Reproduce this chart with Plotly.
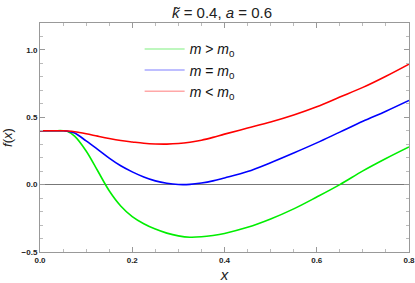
import plotly.graph_objects as go

x = [0, 0.03, 0.05, 0.06, 0.075, 0.1, 0.125, 0.15, 0.175, 0.2, 0.225, 0.25, 0.275, 0.3, 0.325,
     0.35, 0.375, 0.4, 0.45, 0.5, 0.55, 0.6, 0.65, 0.7, 0.75, 0.8]

f_greater = [0.4, 0.4, 0.4, 0.394, 0.36, 0.25, 0.103, -0.045, -0.158, -0.237, -0.29, -0.33, -0.36,
             -0.38, -0.39, -0.387, -0.377, -0.362, -0.317, -0.255, -0.18, -0.092, 0.0, 0.102,
             0.194, 0.28]
f_equal = [0.4, 0.4, 0.4, 0.396, 0.383, 0.325, 0.262, 0.197, 0.14, 0.095, 0.057, 0.028, 0.01,
           0.001, 0.002, 0.012, 0.028, 0.05, 0.097, 0.163, 0.235, 0.31, 0.39, 0.47, 0.545, 0.625]
f_less = [0.4, 0.4, 0.4, 0.398, 0.393, 0.378, 0.36, 0.343, 0.328, 0.317, 0.307, 0.302, 0.301,
          0.305, 0.315, 0.33, 0.351, 0.375, 0.42, 0.465, 0.517, 0.578, 0.65, 0.722, 0.805, 0.895]

x_ticks = [0, 0.2, 0.4, 0.6, 0.8]
x_ticklabels = ["0.0", "0.2", "0.4", "0.6", "0.8"]
y_ticks = [-0.5, 0, 0.5, 1.0]
y_ticklabels = ["\u22120.5", "0.0", "0.5", "1.0"]

names = ["<i>m</i> &gt; <i>m</i><sub>0</sub>",
         "<i>m</i> = <i>m</i><sub>0</sub>",
         "<i>m</i> &lt; <i>m</i><sub>0</sub>"]
colors = ["#00ee00", "#0000ff", "#ff0000"]
pale = ["#a8f5a8", "#a8a8ff", "#ffa8a8"]
series = [f_greater, f_equal, f_less]

fig = go.Figure()
for ys, c in zip(series, colors):
    fig.add_trace(go.Scatter(x=x, y=ys, mode="lines",
                             line=dict(color=c, width=1.6, shape="spline", smoothing=1.0),
                             showlegend=False, hoverinfo="skip"))
for n, p in zip(names, pale):
    fig.add_trace(go.Scatter(x=[None], y=[None], mode="lines", line=dict(color=p, width=1.5),
                             name=n, showlegend=True))

axis_common = dict(showline=True, linecolor="#999999", linewidth=1, mirror="allticks",
                   ticks="inside", tickcolor="#999999", ticklen=5, tickwidth=1,
                   showgrid=False, automargin=False, ticklabeloverflow="allow",
                   tickfont=dict(family="Liberation Sans", size=8, color="#222222"))

fig.update_layout(
    width=415, height=283,
    margin=dict(l=40, r=6, t=23, b=31),
    plot_bgcolor="white", paper_bgcolor="white",
    title=dict(text="<i>k̃</i> = 0.4, <i>a</i> = 0.6", x=0.535, xanchor="center", y=0.975,
               yanchor="top", font=dict(family="Liberation Sans", size=15, color="#222222"),
               automargin=False),
    legend=dict(x=0.27, y=0.955, xanchor="left", yanchor="top", bgcolor="rgba(0,0,0,0)",
                font=dict(family="Liberation Sans", size=14, color="#111111"),
                tracegroupgap=0, itemwidth=40),
    xaxis=dict(range=[0, 0.8], tickvals=x_ticks,
               ticktext=["<b>%s</b>" % t for t in x_ticklabels],
               minor=dict(dtick=0.05, ticks="inside", ticklen=3, tickcolor="#bbbbbb"),
               zeroline=False,
               title=dict(text="<i>x</i>", font=dict(family="Liberation Sans", size=15, color="#222222"),
                          standoff=6),
               **axis_common),
    yaxis=dict(range=[-0.5, 1.2], tickvals=y_ticks,
               ticktext=["<b>%s</b>" % t for t in y_ticklabels],
               minor=dict(dtick=0.1, ticks="inside", ticklen=3, tickcolor="#bbbbbb"),
               zeroline=True, zerolinecolor="#777777", zerolinewidth=1.3,
               title=dict(text="<i>f</i>(<i>x</i>)", font=dict(family="Liberation Sans", size=13, color="#222222"),
                          standoff=12),
               **axis_common),
)

fig.write_html("out.html", config={"displayModeBar": False},
               post_script="document.body.style.margin='0';")
